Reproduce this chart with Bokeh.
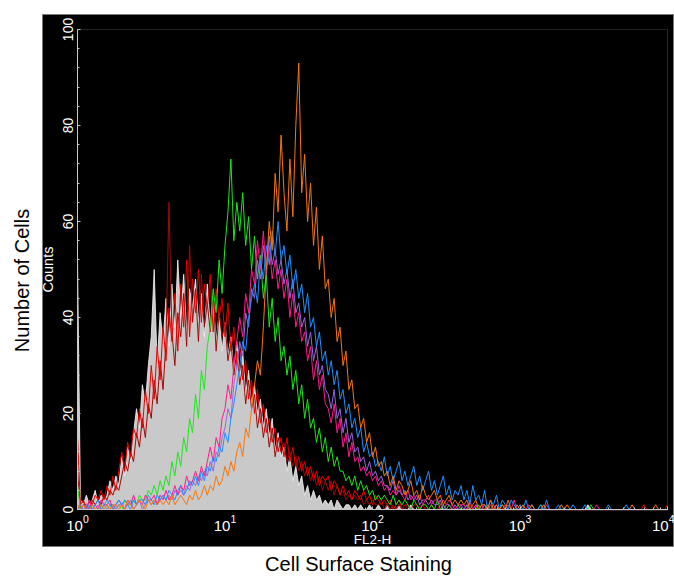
import numpy as np
from bokeh.plotting import figure
from bokeh.models import (BoxAnnotation, Title, Range1d, ColumnDataSource,
                          SingleIntervalTicker)
from bokeh.embed import file_html
from bokeh.resources import INLINE

# FL2-H channel positions, in decades (log10 of fluorescence)
log_fl2 = [
    0.00, 0.02, 0.04, 0.06, 0.08, 0.10, 0.12, 0.14, 0.16, 0.18,
    0.20, 0.22, 0.24, 0.26, 0.28, 0.30, 0.32, 0.34, 0.36, 0.38,
    0.40, 0.42, 0.44, 0.46, 0.48, 0.50, 0.52, 0.54, 0.56, 0.58,
    0.60, 0.62, 0.64, 0.66, 0.68, 0.70, 0.72, 0.74, 0.76, 0.78,
    0.80, 0.82, 0.84, 0.86, 0.88, 0.90, 0.92, 0.94, 0.96, 0.98,
    1.00, 1.02, 1.04, 1.06, 1.08, 1.10, 1.12, 1.14, 1.16, 1.18,
    1.20, 1.22, 1.24, 1.26, 1.28, 1.30, 1.32, 1.34, 1.36, 1.38,
    1.40, 1.42, 1.44, 1.46, 1.48, 1.50, 1.52, 1.54, 1.56, 1.58,
    1.60, 1.62, 1.64, 1.66, 1.68, 1.70, 1.72, 1.74, 1.76, 1.78,
    1.80, 1.82, 1.84, 1.86, 1.88, 1.90, 1.92, 1.94, 1.96, 1.98,
    2.00, 2.02, 2.04, 2.06, 2.08, 2.10, 2.12, 2.14, 2.16, 2.18,
    2.20, 2.22, 2.24, 2.26, 2.28, 2.30, 2.32, 2.34, 2.36, 2.38,
    2.40, 2.42, 2.44, 2.46, 2.48, 2.50, 2.52, 2.54, 2.56, 2.58,
    2.60, 2.62, 2.64, 2.66, 2.68, 2.70, 2.72, 2.74, 2.76, 2.78,
    2.80, 2.82, 2.84, 2.86, 2.88, 2.90, 2.92, 2.94, 2.96, 2.98,
    3.00, 3.02, 3.04, 3.06, 3.08, 3.10, 3.12, 3.14, 3.16, 3.18,
    3.20, 3.22, 3.24, 3.26, 3.28, 3.30, 3.32, 3.34, 3.36, 3.38,
    3.40, 3.42, 3.44, 3.46, 3.48, 3.50, 3.52, 3.54, 3.56, 3.58,
    3.60, 3.62, 3.64, 3.66, 3.68, 3.70, 3.72, 3.74, 3.76, 3.78,
    3.80, 3.82, 3.84, 3.86, 3.88, 3.90, 3.92, 3.94, 3.96, 3.98,
    4.00,
]

control_gray = [
    52, 2, 1, 3, 1, 2, 4, 1, 3, 2,
    3, 6, 4, 7, 5, 11, 7, 13, 10, 16,
    21, 17, 26, 22, 30, 36, 50, 30, 41, 35,
    44, 34, 47, 38, 52, 40, 49, 37, 46, 42,
    48, 39, 45, 36, 47, 38, 44, 35, 41, 33,
    39, 32, 36, 29, 35, 27, 33, 24, 29, 22,
    26, 20, 23, 17, 21, 15, 19, 12, 16, 11,
    13, 8, 11, 6, 9, 5, 7, 3, 5, 2,
    4, 2, 3, 1, 2, 1, 2, 0, 2, 1,
    0, 1, 1, 0, 1, 0, 1, 0, 0, 1,
    0, 0, 1, 0, 0, 1, 0, 0, 0, 1,
    0, 0, 0, 1, 0, 0, 0, 0, 0, 0,
    0, 0, 0, 0, 0, 0, 0, 0, 0, 0,
    0,
    0, 0, 0, 0, 0, 0, 0, 0, 0, 0,
    0, 0, 0, 0, 0, 0, 0, 0, 0, 0,
    0, 0, 0, 0, 0, 0, 0, 0, 0, 0,
    0, 0, 0, 0, 0, 0, 0, 0, 0, 0,
    0, 0, 1, 0, 0, 0, 0, 0, 0, 0,
    0, 0, 0, 0, 0, 0, 0, 0, 0, 0,
    0, 0, 0, 0, 0, 0, 0, 0, 0, 0,
]

sample_red = [
    15, 1, 2, 0, 2, 1, 3, 2, 4, 2,
    5, 3, 7, 4, 8, 12, 8, 14, 11, 17,
    15, 21, 17, 25, 20, 30, 23, 34, 27, 38,
    31, 42, 35, 45, 33, 47, 38, 52, 36, 48,
    41, 50, 39, 47, 42, 49, 37, 46, 40, 44,
    36, 43, 33, 38, 30, 34, 27, 31, 23, 27,
    20, 25, 18, 22, 16, 19, 14, 17, 12, 15,
    11, 15, 10, 13, 9, 11, 8, 10, 7, 9,
    6, 8, 5, 7, 6, 7, 4, 6, 5, 3,
    5, 3, 4, 2, 4, 3, 2, 4, 2, 3,
    1, 3, 2, 1, 2, 1, 2, 0, 1, 2,
    0, 1, 1, 0, 1, 1, 0, 1, 0, 0,
    1, 0, 0, 1, 0, 0, 0, 1, 0, 0,
    0,
    0, 0, 1, 0, 0, 0, 0, 1, 0, 0,
    0, 0, 0, 0, 0, 0, 0, 0, 0, 0,
    0, 0, 0, 0, 0, 0, 0, 0, 0, 0,
    0, 0, 0, 0, 0, 0, 0, 0, 0, 0,
    0, 0, 0, 0, 0, 0, 0, 0, 0, 0,
    0, 0, 0, 0, 0, 0, 0, 0, 0, 0,
    0, 1, 0, 0, 0, 0, 0, 0, 0, 1,
]

sample_darkred = [
    8, 0, 1, 1, 0, 2, 1, 2, 1, 3,
    2, 4, 3, 5, 4, 7, 10, 8, 12, 10,
    16, 13, 19, 15, 22, 19, 27, 22, 31, 25,
    35, 64, 37, 30, 41, 36, 45, 34, 55, 39,
    46, 35, 49, 38, 43, 37, 45, 33, 41, 36,
    39, 31, 35, 28, 33, 26, 30, 22, 27, 21,
    24, 17, 21, 15, 19, 13, 17, 11, 15, 12,
    14, 10, 12, 9, 11, 8, 10, 7, 9, 6,
    8, 5, 7, 4, 6, 4, 6, 3, 5, 3,
    4, 2, 3, 2, 3, 2, 3, 1, 2, 1,
    2, 1, 1, 2, 0, 1, 0, 1, 0, 1,
    0, 0, 1, 0, 0, 0, 1, 0, 0, 0,
    0, 0, 0, 0, 1, 0, 0, 0, 0, 0,
    0,
    0, 0, 0, 0, 0, 0, 0, 0, 0, 0,
    0, 0, 0, 0, 0, 0, 0, 0, 0, 1,
    0, 0, 0, 0, 0, 0, 0, 0, 0, 0,
    0, 0, 0, 0, 0, 0, 0, 0, 0, 0,
    0, 0, 0, 0, 0, 0, 0, 0, 0, 0,
    0, 0, 0, 0, 0, 0, 0, 0, 0, 0,
    0, 0, 0, 0, 0, 0, 0, 0, 0, 0,
]

sample_green = [
    5, 0, 1, 0, 0, 1, 0, 0, 1, 0,
    1, 0, 1, 0, 1, 0, 2, 1, 1, 2,
    1, 3, 2, 2, 4, 3, 5, 3, 6, 4,
    7, 5, 10, 7, 12, 9, 15, 12, 19, 16,
    24, 19, 29, 25, 34, 38, 46, 41, 52, 45,
    55, 62, 73, 56, 64, 58, 66, 55, 61, 50,
    57, 48, 53, 44, 49, 38, 44, 35, 40, 31,
    34, 28, 32, 25, 29, 22, 26, 19, 23, 17,
    19, 14, 17, 12, 15, 10, 13, 9, 11, 8,
    8, 6, 7, 5, 7, 4, 6, 4, 5, 3,
    4, 2, 3, 2, 3, 2, 1, 3, 1, 2,
    1, 2, 1, 0, 2, 1, 0, 1, 1, 0,
    1, 0, 2, 0, 1, 0, 1, 0, 0, 1,
    0,
    0, 1, 0, 0, 0, 1, 0, 0, 1, 0,
    0, 0, 0, 1, 0, 0, 0, 0, 0, 0,
    0, 0, 0, 0, 0, 0, 1, 0, 0, 0,
    0, 0, 0, 0, 0, 0, 0, 0, 0, 0,
    0, 0, 0, 1, 0, 0, 0, 0, 0, 0,
    0, 0, 0, 0, 0, 0, 0, 0, 0, 0,
    0, 0, 0, 0, 0, 0, 0, 0, 0, 0,
]

sample_pink = [
    1, 0, 1, 0, 2, 0, 1, 0, 2, 1,
    1, 2, 0, 1, 2, 1, 0, 2, 1, 3,
    1, 2, 1, 3, 2, 2, 3, 1, 3, 2,
    4, 2, 3, 5, 3, 5, 4, 7, 5, 6,
    8, 6, 9, 7, 10, 13, 10, 15, 13, 19,
    21, 26, 23, 30, 35, 40, 36, 45, 41, 50,
    47, 56, 50, 58, 49, 55, 48, 52, 46, 50,
    44, 48, 40, 45, 38, 41, 35, 37, 31, 34,
    27, 31, 25, 28, 22, 21, 18, 22, 16, 19,
    13, 16, 11, 14, 10, 11, 8, 9, 7, 8,
    6, 7, 5, 6, 4, 5, 3, 4, 3, 5,
    3, 2, 4, 2, 3, 2, 3, 1, 2, 3,
    1, 2, 2, 1, 2, 1, 2, 1, 0, 1,
    1,
    1, 0, 2, 0, 1, 0, 1, 0, 0, 1,
    0, 1, 0, 0, 1, 0, 0, 2, 0, 0,
    0, 0, 1, 0, 0, 0, 0, 0, 1, 0,
    0, 0, 0, 0, 0, 0, 0, 0, 0, 0,
    0, 0, 0, 0, 0, 1, 0, 0, 0, 0,
    0, 0, 0, 0, 0, 0, 0, 0, 0, 0,
    0, 0, 0, 0, 0, 0, 0, 0, 0, 0,
]

sample_purple = [
    0, 1, 0, 1, 0, 1, 0, 1, 0, 1,
    0, 1, 1, 0, 1, 1, 0, 1, 2, 0,
    1, 2, 0, 1, 2, 1, 2, 1, 2, 3,
    2, 3, 2, 4, 3, 4, 3, 5, 4, 6,
    5, 7, 6, 8, 7, 10, 8, 12, 11, 15,
    17, 21, 19, 26, 30, 35, 32, 41, 38, 46,
    44, 52, 48, 55, 50, 57, 51, 54, 49, 52,
    47, 50, 44, 48, 41, 43, 38, 40, 34, 37,
    31, 34, 28, 30, 25, 24, 21, 25, 19, 21,
    16, 19, 14, 16, 12, 13, 10, 11, 8, 10,
    7, 8, 6, 7, 5, 5, 4, 6, 3, 4,
    3, 4, 2, 3, 2, 3, 1, 2, 2, 1,
    2, 1, 1, 2, 0, 1, 1, 0, 1, 0,
    1,
    0, 1, 0, 0, 1, 0, 0, 1, 0, 0,
    1, 0, 0, 0, 0, 1, 0, 0, 0, 0,
    0, 0, 0, 0, 0, 0, 0, 0, 0, 0,
    0, 0, 0, 0, 0, 0, 0, 0, 0, 0,
    0, 0, 0, 0, 0, 0, 0, 0, 0, 0,
    0, 0, 0, 0, 0, 0, 0, 0, 0, 0,
    0, 0, 0, 0, 0, 0, 0, 0, 0, 0,
]

sample_blue = [
    1, 0, 1, 0, 1, 0, 1, 2, 0, 1,
    2, 1, 0, 1, 2, 1, 2, 1, 0, 2,
    1, 2, 2, 1, 3, 2, 1, 3, 2, 3,
    2, 4, 3, 2, 4, 5, 3, 4, 6, 5,
    7, 5, 8, 6, 9, 8, 11, 10, 13, 12,
    16, 14, 19, 22, 26, 30, 35, 33, 40, 44,
    47, 43, 52, 48, 55, 51, 58, 53, 60, 52,
    55, 49, 53, 46, 50, 44, 47, 41, 45, 38,
    40, 34, 37, 31, 33, 28, 31, 26, 29, 23,
    25, 20, 22, 17, 19, 15, 17, 12, 14, 11,
    12, 9, 10, 8, 11, 7, 9, 6, 8, 10,
    6, 8, 5, 7, 9, 5, 7, 4, 6, 8,
    4, 6, 3, 5, 7, 3, 5, 2, 4, 3,
    5,
    2, 4, 1, 5, 2, 3, 1, 4, 0, 2,
    1, 3, 0, 2, 1, 0, 2, 1, 0, 1,
    0, 2, 0, 1, 0, 0, 1, 0, 2, 0,
    0, 0, 1, 0, 0, 0, 0, 1, 0, 0,
    0, 1, 0, 0, 0, 0, 0, 0, 0, 1,
    0, 0, 0, 0, 0, 1, 0, 0, 0, 0,
    0, 0, 0, 0, 0, 0, 0, 0, 0, 0,
]

sample_orange = [
    1, 0, 1, 0, 0, 1, 0, 0, 1, 0,
    1, 0, 1, 1, 0, 1, 0, 2, 1, 0,
    1, 2, 1, 0, 2, 1, 2, 1, 2, 1,
    2, 1, 3, 1, 2, 3, 2, 1, 3, 2,
    4, 2, 3, 5, 3, 5, 4, 7, 5, 6,
    9, 7, 10, 8, 12, 14, 11, 17, 15, 21,
    26, 31, 28, 38, 50, 60, 54, 70, 62, 78,
    66, 58, 73, 61, 80, 93, 66, 74, 60, 68,
    55, 63, 50, 57, 46, 48, 40, 44, 35, 38,
    30, 33, 25, 27, 21, 22, 17, 19, 14, 16,
    11, 13, 9, 10, 7, 8, 5, 7, 4, 6,
    5, 3, 4, 6, 3, 4, 2, 5, 3, 2,
    3, 4, 2, 3, 1, 2, 3, 1, 2, 1,
    2,
    1, 2, 0, 1, 2, 0, 1, 1, 0, 2,
    0, 1, 0, 1, 0, 2, 0, 0, 1, 0,
    1, 0, 0, 1, 0, 0, 0, 1, 0, 0,
    0, 0, 0, 1, 0, 1, 0, 0, 0, 0,
    0, 0, 0, 0, 0, 0, 0, 0, 0, 0,
    0, 0, 0, 0, 0, 0, 0, 1, 0, 0,
    0, 0, 0, 0, 0, 1, 0, 0, 0, 0,
]

series = {
    "gray": control_gray, "red": sample_red, "darkred": sample_darkred,
    "green": sample_green, "pink": sample_pink, "purple": sample_purple,
    "blue": sample_blue, "orange": sample_orange,
}
for k, v in series.items():
    assert len(v) == len(log_fl2), (k, len(v))

data = {"x": [10 ** d for d in log_fl2]}
data.update(series)
src = ColumnDataSource(data)

FONT = "Liberation Sans"

# ---- layout (pixels) ----
W, H = 674, 578
BLACK_L, BLACK_T, BLACK_B = 42, 14, 547       # black panel edges
AX_L, AX_R, AX_T, AX_B = 77, 667, 29, 510     # inner axes box
px_dec = (AX_R - AX_L) / 4.0                  # pixels per decade
px_cnt = (AX_B - AX_T) / 100.0                # pixels per count
x_lo = 10 ** (-(AX_L - BLACK_L) / px_dec)
x_hi = 10 ** ((W - AX_L) / px_dec)
y_lo = -(BLACK_B - AX_B) / px_cnt
y_hi = (AX_B - BLACK_T) / px_cnt

p = figure(width=W, height=H, x_axis_type="log",
           x_range=Range1d(x_lo, x_hi), y_range=Range1d(y_lo, y_hi),
           output_backend="svg", toolbar_location=None,
           min_border_left=BLACK_L, min_border_right=0,
           min_border_top=BLACK_T, min_border_bottom=H - BLACK_B,
           background_fill_color="black", border_fill_color="white",
           outline_line_color="#7a7a7a", outline_line_width=1)

p.grid.grid_line_color = None

# inner axes box
p.add_layout(BoxAnnotation(left=1, right=10000, bottom=0, top=100,
                           fill_alpha=0, line_color="#7a7a7a", line_width=1,
                           level="underlay"))

p.yaxis.ticker = SingleIntervalTicker(interval=20, num_minor_ticks=5)
p.yaxis.fixed_location = 1
p.xaxis.fixed_location = 0
p.yaxis.bounds = (0, 100)
p.xaxis.bounds = (1, 10000)
for ax in (p.xaxis[0], p.yaxis[0]):
    ax.axis_line_color = "#c8c8c8"
    ax.major_tick_line_color = "#c8c8c8"
    ax.minor_tick_line_color = "#c8c8c8"
    ax.major_tick_in = 3
    ax.major_tick_out = 0
    ax.minor_tick_in = 2
    ax.minor_tick_out = 0
    ax.major_label_text_color = "white"
    ax.major_label_text_font = FONT
    ax.axis_label_text_color = "white"
    ax.axis_label_text_font = FONT
    ax.axis_label_text_font_style = "normal"

p.yaxis.major_label_orientation = "vertical"
p.yaxis.major_label_text_font_size = "14px"
p.yaxis.major_label_standoff = 4
p.yaxis.axis_label = "Counts"
p.yaxis.axis_label_text_font_size = "14.5px"
p.yaxis.axis_label_standoff = 5

p.xaxis.major_label_text_font_size = "15px"
p.xaxis.major_label_standoff = 5
p.xaxis.axis_label = "FL2-H"
p.xaxis.axis_label_text_font_size = "13.5px"
p.xaxis.axis_label_standoff = -2

# histograms
p.varea(x="x", y1=0, y2="gray", source=src, fill_color="#c9c9c9")
p.line("x", "gray", source=src, line_color="#f0f0f0", line_width=1, line_alpha=0.85)
p.line("x", "darkred", source=src, line_color="#a00a0a", line_width=1)
p.line("x", "red", source=src, line_color="#e60000", line_width=1)
p.line("x", "green", source=src, line_color="#1ee61e", line_width=1)
p.line("x", "purple", source=src, line_color="#9966dd", line_width=1)
p.line("x", "pink", source=src, line_color="#ff1a8c", line_width=1)
p.line("x", "blue", source=src, line_color="#1e90ff", line_width=1)
p.line("x", "orange", source=src, line_color="#f7760f", line_width=1)

# outer titles (in the white margins)
p.add_layout(Title(text="Number of Cells", align="center", vertical_align="middle",
                   text_font=FONT, text_font_size="20px", text_font_style="normal",
                   text_color="black", standoff=18), "left")
p.add_layout(Title(text="Cell Surface Staining", align="center", vertical_align="bottom",
                   text_font=FONT, text_font_size="20px", text_font_style="normal",
                   text_color="black", standoff=8), "below")

open("out.html", "w").write(file_html(p, INLINE))
